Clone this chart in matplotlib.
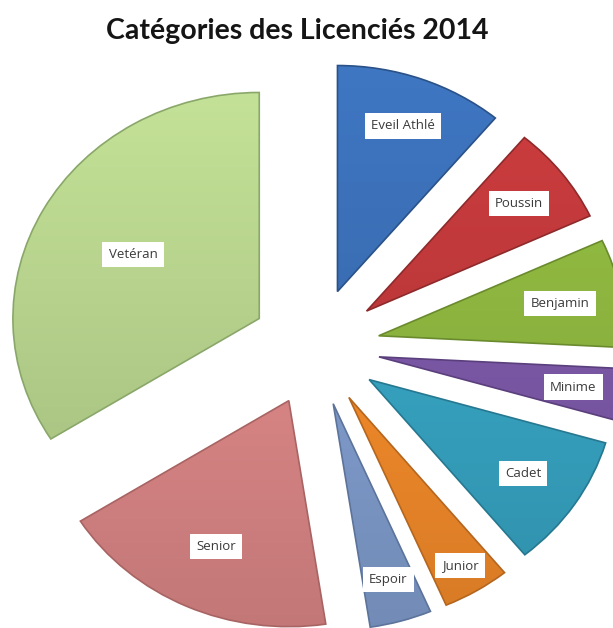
import numpy as np
import matplotlib
matplotlib.use("Agg")
import matplotlib.pyplot as plt
from matplotlib.colors import to_rgb

# licenciés par catégorie
categories = ["Eveil Athlé", "Poussin", "Benjamin", "Minime", "Cadet",
              "Junior", "Espoir", "Senior", "Vetéran"]
licencies = [30, 19, 21, 10, 26, 12, 11, 50, 92]
colors = ["#3b6fb6", "#c0393b", "#8db53f", "#7b58a6", "#36a2c0",
          "#f0892a", "#7f9bcb", "#d98585", "#b7d38d"]
edges = ["#2a5288", "#8e2a2b", "#6a8a2e", "#5a3f7c", "#267890",
         "#b4661f", "#5c739a", "#a86363", "#8aa76a"]
# position radiale des étiquettes (fraction du rayon, comme Excel "ajustement optimal")
label_r = [0.78, 0.78, 0.75, 0.80, 0.75, 0.87, 0.81, 0.71, 0.585]

W, H = 613, 628
SX = 1.09  # le graphique d'origine est un peu étiré en largeur

fig = plt.figure(figsize=(W / 100, H / 100), dpi=100)
ax = fig.add_axes([0, 0, 1, 1])

wedges, texts = ax.pie(
    licencies,
    labels=categories,
    colors=colors,
    startangle=90,
    counterclock=False,
    radius=226,
    center=(289.5, H - 347),
    explode=[59] * len(licencies),
    frame=True,
    textprops=dict(fontsize=9.5, family="Open Sans", color="#3a3a3a",
                   ha="center", va="center", zorder=5),
)

# léger dégradé façon Excel (clair en haut, plus sombre en bas)
shade = np.linspace(0.90, 1.07, 64)[:, None, None]
for w, col, ec, t, lr in zip(wedges, colors, edges, texts, label_r):
    cx, cy = w.center
    r = w.r
    grad = np.clip(np.array(to_rgb(col))[None, None, :] * shade, 0, 1)
    im = ax.imshow(grad, extent=(cx - r, cx + r, cy - r, cy + r), origin="lower",
                   aspect="auto", interpolation="bilinear", zorder=1)
    im.set_clip_path(w)
    w.set_facecolor("none")
    w.set_edgecolor(ec)
    w.set_linewidth(1.2)
    w.set_zorder(2)
    th = np.deg2rad(0.5 * (w.theta1 + w.theta2))
    t.set_position((cx + lr * r * np.cos(th), cy + lr * r * np.sin(th)))
    t.set_bbox(dict(facecolor="white", edgecolor="none", pad=4.5))

ax.set_xlim(0, W / SX)
ax.set_ylim(0, H)
ax.set_aspect("auto")
ax.axis("off")

fig.text(297 / W, 1 - 31 / H, "Catégories des Licenciés 2014", ha="center", va="center",
         fontsize=20.5, fontweight="bold", family="Lato", color="#151515")

fig.savefig("out.png", dpi=100)
